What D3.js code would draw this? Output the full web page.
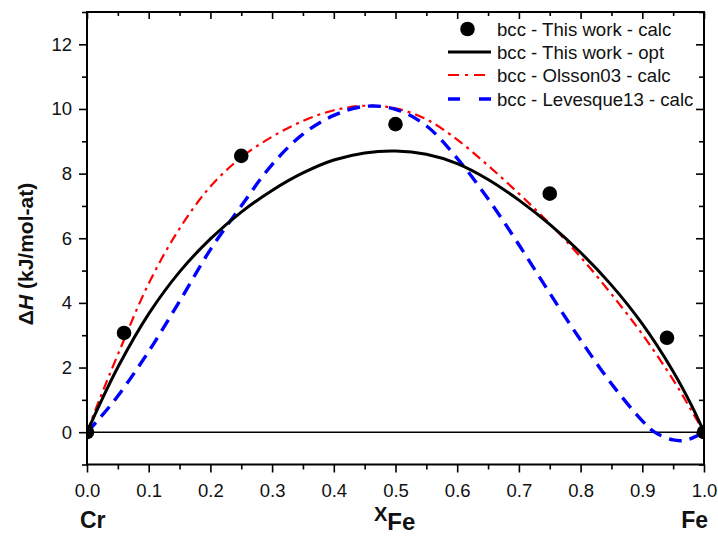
<!DOCTYPE html>
<html><head><meta charset="utf-8">
<script src="https://cdn.jsdelivr.net/npm/d3@7"></script>
<style>
body{margin:0;background:#fff}
svg{display:block;font-family:Arial,"Liberation Sans",sans-serif}
</style>
</head><body>
<svg id="c" width="718" height="538"></svg>
<script>
// ---- data ----
const pointX = [0, 0.06, 0.25, 0.5, 0.75, 0.94, 1.0];
const pointY = [0, 3.07, 8.55, 9.53, 7.38, 2.92, 0];

const optX = [0,0.02,0.05,0.1,0.15,0.2,0.25,0.3,0.35,0.4,0.45,0.5,0.55,0.6,0.65,0.7,0.75,0.8,0.85,0.9,0.95,0.98,1];
const optY = [0,0.84,2.01,3.66,4.96,5.98,6.81,7.48,8.02,8.42,8.64,8.7,8.6,8.31,7.82,7.18,6.43,5.56,4.55,3.35,1.88,0.82,0];

const olsX = [0,0.02,0.05,0.1,0.15,0.2,0.25,0.3,0.35,0.4,0.45,0.5,0.55,0.6,0.65,0.7,0.75,0.8,0.85,0.9,0.95,0.98,1];
const olsY = [0,1.0,2.4,4.6,6.3,7.6,8.5,9.14,9.63,9.96,10.1,10.02,9.68,9.05,8.25,7.38,6.45,5.42,4.27,3.03,1.62,0.66,0];

const levX = [0,0.02,0.05,0.1,0.15,0.2,0.25,0.3,0.35,0.4,0.45,0.5,0.55,0.6,0.65,0.7,0.75,0.8,0.85,0.9,0.92,0.95,0.97,0.99,1];
const levY = [0,0.42,1.12,2.5,4.05,5.65,7.0,8.28,9.22,9.8,10.08,9.99,9.48,8.47,7.22,5.8,4.3,2.85,1.5,0.35,0.0,-0.24,-0.25,-0.1,0];

const xMajor = [0,0.1,0.2,0.3,0.4,0.5,0.6,0.7,0.8,0.9,1.0];
const xMinor = [0.05,0.15,0.25,0.35,0.45,0.55,0.65,0.75,0.85,0.95];
const yMajor = [0,2,4,6,8,10,12];
const yMinor = [-1,1,3,5,7,9,11,13];

const legendLabels = ["bcc - This work - calc","bcc - This work - opt","bcc - Olsson03 - calc","bcc - Levesque13 - calc"];

// ---- chart ----
const L = 87, R = 704, T = 12, B = 464.5;
const svg = d3.select("#c");
const x = d3.scaleLinear().domain([0,1]).range([L,R]);
const y = d3.scaleLinear().domain([-1,13]).range([B,T]);

svg.append("defs").append("clipPath").attr("id","clip")
  .append("rect").attr("x",L).attr("y",T).attr("width",R-L).attr("height",B-T);

function styleAxis(g){
  g.select(".domain").remove();
  g.selectAll(".tick line").attr("stroke","#000").attr("stroke-width",1.6);
  g.selectAll(".tick text").attr("font-size","18.5px").attr("fill","#111")
    .attr("font-family",'Arial,"Liberation Sans",sans-serif');
}

// bottom
svg.append("g").attr("transform",`translate(0,${B})`)
  .call(d3.axisBottom(x).tickValues(xMajor).tickSize(8).tickPadding(11).tickFormat(d3.format(".1f"))).call(styleAxis);
svg.append("g").attr("transform",`translate(0,${B})`)
  .call(d3.axisBottom(x).tickValues(xMinor).tickSize(5).tickFormat("")).call(styleAxis);
// top (inward)
svg.append("g").attr("transform",`translate(0,${T})`)
  .call(d3.axisTop(x).tickValues(xMajor).tickSize(-7).tickFormat("")).call(styleAxis);
svg.append("g").attr("transform",`translate(0,${T})`)
  .call(d3.axisTop(x).tickValues(xMinor).tickSize(-4).tickFormat("")).call(styleAxis);
// left
svg.append("g").attr("transform",`translate(${L},0)`)
  .call(d3.axisLeft(y).tickValues(yMajor).tickSize(8).tickPadding(7).tickFormat(d3.format("d"))).call(styleAxis);
svg.append("g").attr("transform",`translate(${L},0)`)
  .call(d3.axisLeft(y).tickValues(yMinor).tickSize(5).tickFormat("")).call(styleAxis);
// right (inward)
svg.append("g").attr("transform",`translate(${R},0)`)
  .call(d3.axisRight(y).tickValues(yMajor).tickSize(-8).tickFormat("")).call(styleAxis);
svg.append("g").attr("transform",`translate(${R},0)`)
  .call(d3.axisRight(y).tickValues(yMinor).tickSize(-5).tickFormat("")).call(styleAxis);

// zero line
svg.append("line").attr("x1",L).attr("x2",R).attr("y1",y(0)).attr("y2",y(0))
  .attr("stroke","#000").attr("stroke-width",1.6);

const plot = svg.append("g").attr("clip-path","url(#clip)");
const line = d3.line().x(d=>x(d[0])).y(d=>y(d[1])).curve(d3.curveCatmullRom.alpha(0.5));

plot.append("path").datum(d3.zip(olsX,olsY)).attr("d",line)
  .attr("fill","none").attr("stroke","#ff0000").attr("stroke-width",2.2)
  .attr("stroke-dasharray","10 5 3 5");
plot.append("path").datum(d3.zip(levX,levY)).attr("d",line)
  .attr("fill","none").attr("stroke","#0000ff").attr("stroke-width",3.4)
  .attr("stroke-dasharray","13 8");
plot.append("path").datum(d3.zip(optX,optY)).attr("d",line)
  .attr("fill","none").attr("stroke","#000").attr("stroke-width",3);

plot.selectAll("circle.pt").data(d3.zip(pointX,pointY)).join("circle")
  .attr("class","pt").attr("cx",d=>x(d[0])).attr("cy",d=>y(d[1])).attr("r",7.3).attr("fill","#000");

// frame
svg.append("rect").attr("x",L).attr("y",T).attr("width",R-L).attr("height",B-T)
  .attr("fill","none").attr("stroke","#000").attr("stroke-width",2);

// legend
const lg = svg.append("g");
const rowY = [29,52,75,99];
const lx1 = 448, lx2 = 491, tx = 497;
lg.append("circle").attr("cx",(lx1+lx2)/2-2).attr("cy",rowY[0]).attr("r",7.3).attr("fill","#000");
lg.append("line").attr("x1",lx1).attr("x2",lx2).attr("y1",rowY[1]).attr("y2",rowY[1])
  .attr("stroke","#000").attr("stroke-width",3);
lg.append("line").attr("x1",lx1).attr("x2",lx2).attr("y1",rowY[2]).attr("y2",rowY[2])
  .attr("stroke","#ff0000").attr("stroke-width",2.2).attr("stroke-dasharray","11 6 3 6");
lg.append("line").attr("x1",lx1).attr("x2",lx2).attr("y1",rowY[3]).attr("y2",rowY[3])
  .attr("stroke","#0000ff").attr("stroke-width",3.4).attr("stroke-dasharray","12 19");
lg.selectAll("text").data(legendLabels).join("text")
  .attr("x",tx).attr("y",(d,i)=>rowY[i]).attr("dy","0.35em")
  .attr("font-size","18.6px").attr("fill","#111").text(d=>d);

// y title
const yt = svg.append("text").attr("transform","translate(33,254) rotate(-90)")
  .attr("text-anchor","middle").attr("font-size","21px").attr("font-weight","bold").attr("fill","#111");
yt.append("tspan").text("Δ");
yt.append("tspan").attr("font-style","italic").text("H");
yt.append("tspan").text(" (kJ/mol-at)");

// x title
const xt = svg.append("text").attr("x",374).attr("y",521).attr("font-weight","bold").attr("fill","#111");
xt.append("tspan").attr("font-size","20px").text("X");
xt.append("tspan").attr("font-size","24px").attr("dy",9).text("Fe");

svg.append("text").attr("x",80).attr("y",528).attr("font-size","23px").attr("font-weight","bold").attr("fill","#111").text("Cr");
svg.append("text").attr("x",708).attr("y",528).attr("text-anchor","end").attr("font-size","23px").attr("font-weight","bold").attr("fill","#111").text("Fe");
</script>
</body></html>
